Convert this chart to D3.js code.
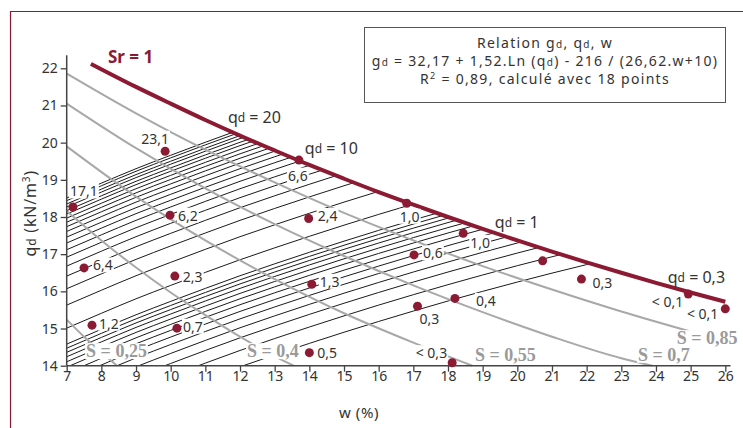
<!DOCTYPE html>
<html>
<head>
<meta charset="utf-8">
<script src="https://cdn.jsdelivr.net/npm/d3@7"></script>
<style>
  body { margin: 0; background: #fff; }
  text { font-family: 'Noto Sans', sans-serif; fill: #333; }
</style>
</head>
<body>
<div id="chart"></div>
<script>
// Data
const xTicks = [7, 8, 9, 10, 11, 12, 13, 14, 15, 16, 17, 18, 19, 20, 21, 22, 23, 24, 25, 26];
const yTicks = [14, 15, 16, 17, 18, 19, 20, 21, 22];

// Sr = 1 saturation curve (w %, gd kN/m3)
const srCurve = [[7.7, 22.12], [9, 21.5], [10, 21.05], [11, 20.61], [12, 20.19], [13, 19.79], [14, 19.4],
  [15, 19.03], [16, 18.67], [17, 18.33], [18, 18.0], [19, 17.68], [20, 17.37], [21, 17.07], [22, 16.78],
  [23, 16.5], [24, 16.23], [25, 15.97], [26, 15.72]];

// iso-saturation curves
const sNames = ['S = 0,85', 'S = 0,7', 'S = 0,55', 'S = 0,4', 'S = 0,25'];
const sCurves = [
  [[7, 21.86], [9, 20.79], [11, 19.81], [13, 18.93], [15, 18.11], [17, 17.37], [19, 16.68], [21, 16.05], [23, 15.46], [25, 14.92]],
  [[7, 21.05], [9, 19.85], [11, 18.77], [13, 17.81], [15, 16.95], [17, 16.16], [19, 15.44], [21, 14.78], [23, 14.2], [23.9, 14.0]],
  [[7, 19.9], [9, 18.55], [11, 17.37], [13, 16.33], [15, 15.41], [17, 14.62], [18.7, 14.0]],
  [[7, 18.16], [8, 17.37], [9, 16.64], [10, 15.97], [11, 15.36], [12, 14.78], [13, 14.25], [13.55, 14.0]],
  [[7, 15.24], [7.5, 14.78], [8, 14.36], [8.45, 14.0]],
];

// iso-qd curve shape (qd = 1) and the gd shift of every drawn iso-qd line
// qd = 20 ... 2 by 1, then 1,5 ... 0,3 by 0,1
const isoBase = [[7, 13.96], [8, 14.36], [9, 14.75], [10, 15.11], [11, 15.46], [12, 15.8], [13, 16.12],
  [14, 16.43], [15, 16.73], [16, 17.02], [17, 17.3], [18, 17.57], [19, 17.83], [20, 18.08], [21, 18.32],
  [22, 18.55], [23, 18.77], [24, 18.99], [25, 19.2], [26, 19.41]];
const isoShift = [4.55, 4.48, 4.39, 4.31, 4.21, 4.12, 4.01, 3.9, 3.78, 3.65, 3.5,
  3.34, 3.16, 2.96, 2.72, 2.45, 2.11, 1.67, 1.05,
  0.62, 0.51, 0.4, 0.28, 0.145, 0, -0.16, -0.34, -0.54, -0.78, -1.05, -1.39, -1.83];

// measured points
const ptW = [7.18, 9.84, 9.98, 7.5, 10.12, 7.73, 10.18, 13.7, 13.98, 16.81, 18.44, 17.02, 14.07, 18.2, 17.12, 14.0, 18.12, 20.73, 21.85, 24.93, 26.0];
const ptG = [18.27, 19.77, 18.05, 16.63, 16.41, 15.09, 15.01, 19.53, 17.96, 18.37, 17.56, 16.98, 16.19, 15.81, 15.6, 14.35, 14.08, 16.82, 16.33, 15.93, 15.53];
const ptLabel = ['17,1', '23,1', '6,2', '6,4', '2,3', '1,2', '0,7', '6,6', '2,4', '1,0', '1,0', '0,6', '1,3', '0,4', '0,3', '0,5', '< 0,3', '', '0,3', '< 0,1', '< 0,1'];

// iso-qd names
const qdNames = ['20', '10', '1', '0,3'];

// Layout
const red = '#8c1a33';
const grey = '#a8a8a8';
const x = d3.scaleLinear([7, 26], [66.7, 725.3]);
const y = d3.scaleLinear([14, 22], [365.7, 68.3]);

const svg = d3.select('#chart').append('svg').attr('width', 743).attr('height', 428);

// page frame
svg.append('path').attr('d', 'M10.5,428V11.5H743').attr('fill', 'none').attr('stroke', red).attr('stroke-width', 1.2);

const line = d3.line().x((d) => x(d[0])).y((d) => y(d[1])).curve(d3.curveMonotoneX);

// clip: area under Sr = 1
const clipArea = d3.area().x((d) => x(d[0])).y0(y(14)).y1((d) => y(d[1])).curve(d3.curveMonotoneX);
svg.append('clipPath').attr('id', 'under').append('path')
  .attr('d', clipArea([[7, 22.5], ...srCurve]));

// iso-qd lines
svg.append('g').attr('clip-path', 'url(#under)')
  .selectAll('path').data(isoShift).join('path')
  .attr('d', line(isoBase))
  .attr('transform', (d) => `translate(0,${y(14 + d) - y(14)})`)
  .attr('fill', 'none').attr('stroke', '#1a1a1a').attr('stroke-width', 1);

// S curves
svg.append('g').selectAll('path').data(sCurves).join('path')
  .attr('d', line)
  .attr('fill', 'none').attr('stroke', grey).attr('stroke-width', 2);

// axes
const xAxis = d3.axisBottom(x).tickValues(xTicks).tickSize(6).tickPadding(0).tickSizeOuter(0).tickFormat(d3.format('d'));
const yAxis = d3.axisLeft(y).tickValues(yTicks).tickSize(6).tickSizeOuter(0).tickFormat(d3.format('d'));
const gx = svg.append('g').attr('transform', `translate(0,${y(14)})`).call(xAxis);
const gy = svg.append('g').attr('transform', `translate(${x(7)},0)`).call(yAxis);
[gx, gy].forEach((g) => {
  g.select('.domain').remove();
  g.selectAll('line').attr('stroke', '#444').attr('stroke-width', 1.3);
  g.selectAll('text').style('font-family', "'Noto Sans', sans-serif").style('font-size', '14px').attr('fill', '#444');
});
gx.selectAll('text').attr('dy', '0.63em');
svg.append('line').attr('x1', x(7)).attr('x2', x(26.15)).attr('y1', y(14)).attr('y2', y(14))
  .attr('stroke', '#444').attr('stroke-width', 1.5);
svg.append('line').attr('x1', x(7)).attr('x2', x(7)).attr('y1', y(14)).attr('y2', y(22.35))
  .attr('stroke', '#444').attr('stroke-width', 1.5);

// Sr = 1
svg.append('path').attr('d', line(srCurve)).attr('fill', 'none').attr('stroke', red).attr('stroke-width', 4);

// helper: white box behind a text
function backing(t, pad) {
  const b = t.node().getBBox();
  d3.select(t.node().parentNode).insert('rect', 'text')
    .attr('x', b.x - pad).attr('y', b.y + 2).attr('width', b.width + pad * 2).attr('height', b.height - 4)
    .attr('fill', '#fff');
}

// S labels
const sLabelPos = [[24.6, 14.58], [23.48, 14.13], [18.78, 14.13], [12.2, 14.23], [7.56, 14.23]];
sNames.forEach((s, i) => {
  const g = svg.append('g');
  const t = g.append('text')
    .attr('x', x(sLabelPos[i][0])).attr('y', y(sLabelPos[i][1]))
    .style('font-family', "'Liberation Serif', serif").style('font-weight', 'bold').style('font-size', '18px')
    .style('fill', '#9a9a9a')
    .text(s);
  backing(t, 1);
});

// points
svg.append('g').selectAll('circle').data(ptW).join('circle')
  .attr('cx', (d) => x(d)).attr('cy', (d, i) => y(ptG[i])).attr('r', 4.5).attr('fill', red);

// point labels
const ptOff = [[11, -16, 'middle'], [-10, -13, 'middle'], [8, 0, 'start'], [9, -3, 'start'], [8, 0, 'start'],
  [7, -2, 'start'], [6, -2, 'start'], [-1, 15, 'middle'], [9, -3, 'start'], [3, 13, 'middle'], [7, 9, 'start'],
  [9, -2, 'start'], [8, -3, 'start'], [21, 2, 'start'], [12, 12, 'middle'], [8, 0, 'start'], [-5, -10, 'end'],
  [0, 0, 'start'], [11, 3, 'start'], [-5, 8, 'end'], [-7, 5, 'end']];
ptLabel.forEach((s, i) => {
  if (!s) return;
  const g = svg.append('g');
  const t = g.append('text')
    .attr('x', x(ptW[i]) + ptOff[i][0]).attr('y', y(ptG[i]) + ptOff[i][1])
    .attr('dominant-baseline', 'central').attr('text-anchor', ptOff[i][2])
    .style('font-size', '14px')
    .text(s);
  backing(t, 1);
});

// qd labels
const qdPos = [[11.65, 20.69], [13.87, 19.86], [19.35, 17.87], [24.34, 16.39]];
qdNames.forEach((s, i) => {
  const t = svg.append('text')
    .attr('x', x(qdPos[i][0])).attr('y', y(qdPos[i][1]))
    .attr('dominant-baseline', 'central').style('font-size', '16px');
  t.append('tspan').text('q');
  t.append('tspan').style('font-size', '12px').text('d');
  t.append('tspan').text(` = ${s}`);
});

// Sr = 1 label
svg.append('text').attr('x', x(8.19)).attr('y', y(22.31)).attr('dominant-baseline', 'central')
  .style('font-size', '17px').style('font-weight', 'bold').style('fill', red).text('Sr = 1');

// axis names
const yName = svg.append('text').attr('transform', `translate(36,${y(18.1)}) rotate(-90)`)
  .attr('text-anchor', 'middle').style('font-size', '16px').style('letter-spacing', '0.8px');
yName.append('tspan').text('q');
yName.append('tspan').style('font-size', '12px').text('d');
yName.append('tspan').text(' (kN/m');
yName.append('tspan').style('font-size', '10px').attr('dy', '-6').text('3');
yName.append('tspan').attr('dy', '6').text(')');

svg.append('text').attr('x', 359).attr('y', 412).attr('text-anchor', 'middle')
  .attr('dominant-baseline', 'central').style('font-size', '15px').style('letter-spacing', '0.6px').text('w (%)');

// legend box
svg.append('rect').attr('x', 364.5).attr('y', 27.5).attr('width', 361).attr('height', 75)
  .attr('fill', '#fff').attr('stroke', '#555').attr('stroke-width', 1);
const lg = svg.append('g').attr('transform', 'translate(545,0)')
  .style('font-size', '14px').style('letter-spacing', '1.3px');
const l1 = lg.append('text').attr('y', 47.5).attr('text-anchor', 'middle');
l1.append('tspan').text('Relation g');
l1.append('tspan').style('font-size', '10px').text('d');
l1.append('tspan').text(', q');
l1.append('tspan').style('font-size', '10px').text('d');
l1.append('tspan').text(', w');
const l2 = lg.append('text').attr('y', 66).attr('text-anchor', 'middle');
l2.append('tspan').text('g');
l2.append('tspan').style('font-size', '10px').text('d');
l2.append('tspan').text(' = 32,17 + 1,52.Ln (q');
l2.append('tspan').style('font-size', '10px').text('d');
l2.append('tspan').text(') - 216 / (26,62.w+10)');
const l3 = lg.append('text').attr('y', 84).attr('text-anchor', 'middle');
l3.append('tspan').text('R');
l3.append('tspan').style('font-size', '9px').attr('dy', '-5').text('2');
l3.append('tspan').attr('dy', '5').text(' = 0,89, calculé avec 18 points');
</script>
</body>
</html>
